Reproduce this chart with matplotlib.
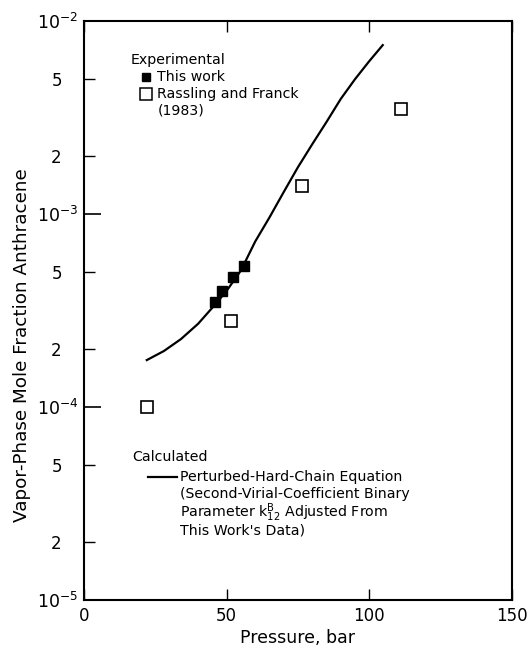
import matplotlib.pyplot as plt
from matplotlib.ticker import FixedLocator

# Experimental data, this work (filled squares)
this_work_p = [45.9, 48.4, 52.2, 56.1]
this_work_y = [3.5e-4, 4.0e-4, 4.7e-4, 5.4e-4]

# Rassling and Franck (1983) (open squares)
rf_p = [22, 51.5, 76.5, 111]
rf_y = [1.0e-4, 2.8e-4, 1.4e-3, 3.5e-3]

# Perturbed-hard-chain equation (calculated curve)
calc_p = [22, 28, 34, 40, 46, 50, 55, 60, 65, 70, 75, 80, 85, 90, 95, 100, 104.7]
calc_y = [1.75e-4, 1.95e-4, 2.25e-4, 2.7e-4, 3.4e-4, 4.0e-4, 5.1e-4, 7.2e-4,
          9.6e-4, 1.3e-3, 1.75e-3, 2.3e-3, 3.0e-3, 3.95e-3, 5.0e-3, 6.2e-3, 7.5e-3]

y_major = [1e-5, 1e-4, 1e-3, 1e-2]
y_major_labels = ['$10^{-5}$', '$10^{-4}$', '$10^{-3}$', '$10^{-2}$']
y_minor = [2e-5, 5e-5, 2e-4, 5e-4, 2e-3, 5e-3]
y_minor_labels = ['2', '5', '2', '5', '2', '5']
x_ticks = [0, 50, 100, 150]

W, H = 530, 649
fig = plt.figure(figsize=(W / 100, H / 100), dpi=100)
ax = fig.add_axes([84 / W, 1 - 600 / H, (512 - 84) / W, (600 - 21) / H])

ax.plot(calc_p, calc_y, color='black', lw=1.6)
ax.plot(this_work_p, this_work_y, 's', color='black', ms=7)
ax.plot(rf_p, rf_y, 's', mfc='white', mec='black', mew=1.2, ms=8)

ax.set_yscale('log')
ax.set_xlim(0, 150)
ax.set_ylim(1e-5, 1e-2)

ax.yaxis.set_major_locator(FixedLocator(y_major))
ax.set_yticklabels(y_major_labels)
ax.yaxis.set_minor_locator(FixedLocator(y_minor))
ax.set_yticklabels(y_minor_labels, minor=True)
ax.set_xticks(x_ticks)
ax.set_xticklabels([str(v) for v in x_ticks])

ax.tick_params(axis='y', which='major', direction='in', length=12, width=1.2,
               labelsize=12.5, pad=4)
ax.tick_params(axis='y', which='minor', direction='in', length=8, width=1.0,
               labelsize=12, pad=16)
ax.tick_params(axis='x', direction='in', length=8, width=1.0, top=True,
               labelsize=12, pad=5)
for s in ax.spines.values():
    s.set_linewidth(1.5)

ax.set_xlabel('Pressure, bar', fontsize=12.5, labelpad=3)
ax.set_ylabel('Vapor-Phase Mole Fraction Anthracene', fontsize=13.2, va='center')
ax.yaxis.set_label_coords((22 - 84) / 428, (600 - 345) / 579)


def px(x, y):
    return x / W, 1 - y / H


fs = 10.2
fig.text(*px(131, 60), 'Experimental', fontsize=fs, va='center')
fig.lines.append(plt.Line2D(*zip(px(146, 77)), marker='s', color='black', ms=6,
                            transform=fig.transFigure))
fig.text(*px(157, 77), 'This work', fontsize=fs, va='center')
fig.lines.append(plt.Line2D(*zip(px(146, 94)), marker='s', mfc='white', mec='black',
                            mew=1.1, ms=8, transform=fig.transFigure))
fig.text(*px(157, 94), 'Rassling and Franck', fontsize=fs, va='center')
fig.text(*px(158, 111), '(1983)', fontsize=fs, va='center')

fig.text(*px(132, 457), 'Calculated', fontsize=fs, va='center')
x0, y0 = px(148, 477)
x1, _ = px(177, 477)
fig.lines.append(plt.Line2D([x0, x1], [y0, y0], color='black', lw=1.6,
                            transform=fig.transFigure))
fig.text(*px(180, 477), 'Perturbed-Hard-Chain Equation', fontsize=fs, va='center')
fig.text(*px(180, 494), '(Second-Virial-Coefficient Binary', fontsize=fs, va='center')
fig.text(*px(180, 513), r'Parameter k$^{\rm B}_{12}$ Adjusted From', fontsize=fs,
         va='center')
fig.text(*px(180, 531), "This Work's Data)", fontsize=fs, va='center')

fig.savefig('out.png', dpi=100)
